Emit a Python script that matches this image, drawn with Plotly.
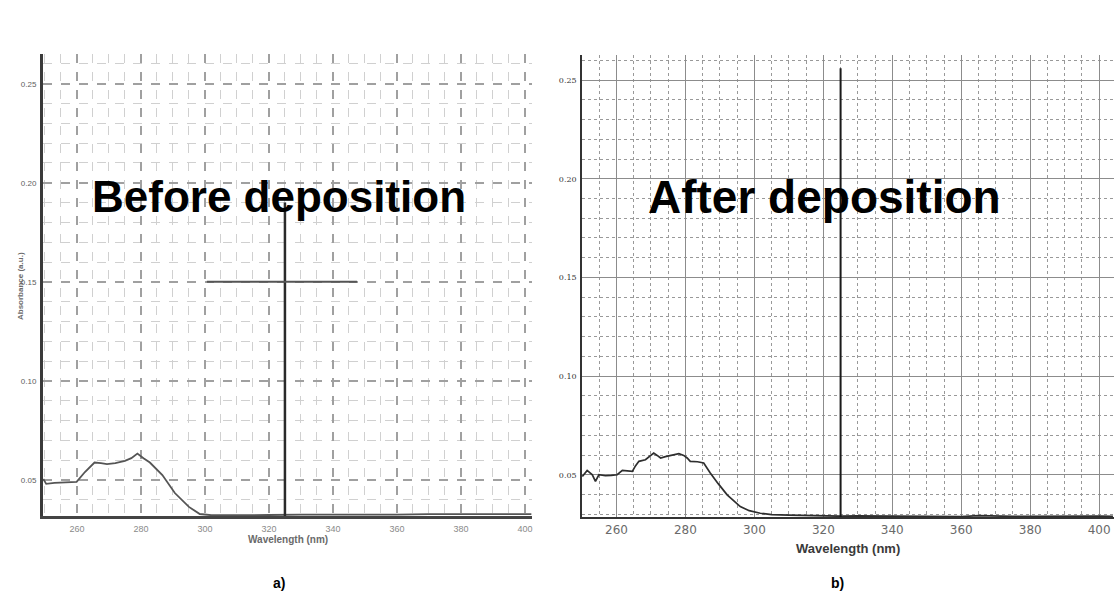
import plotly.graph_objects as go

W, H = 1114, 597

# ---------------- data ----------------
before_wavelength = [249.5, 250.4, 253, 256, 259.9, 262.5, 265.5, 267.5, 269.4, 272, 275, 277, 278.9,
                     280.8, 282.8, 286.7, 290.6, 295, 298.4, 302, 310, 320, 330, 340, 350, 360,
                     370, 380, 390, 400, 402]
before_absorbance = [0.0505, 0.048, 0.0485, 0.0488, 0.049, 0.054, 0.0588, 0.0585, 0.058, 0.0585, 0.0596,
                     0.061, 0.0633, 0.061, 0.0588, 0.0525, 0.0434, 0.0364, 0.0328, 0.0322, 0.0324,
                     0.0323, 0.0325, 0.0324, 0.0326, 0.0325, 0.0327, 0.0326, 0.0326, 0.0327, 0.0327]

after_wavelength = [250.1, 251.5, 253.0, 253.9, 254.9, 256.8, 258.5, 260.2, 261.7, 263.0, 264.6, 265.5,
                    266.5, 268.4, 269.5, 270.8, 271.8, 272.8, 274.2, 275.7, 277.0, 278.1, 279.5,
                    280.5, 281.4, 283.5, 285.3, 287.2, 289.5, 292.1, 295.9, 298.5, 301.7, 305,
                    310, 315, 320, 325, 330, 335, 340, 345, 350, 355, 360, 365, 370, 375, 380,
                    385, 390, 395, 400, 404]
after_absorbance = [0.0491, 0.0522, 0.050, 0.0466, 0.050, 0.0495, 0.0497, 0.050, 0.0522, 0.0520, 0.0517,
                    0.0545, 0.0568, 0.0576, 0.0590, 0.0610, 0.0598, 0.0585, 0.0592, 0.0597, 0.0602,
                    0.0607, 0.0598, 0.0585, 0.0568, 0.0566, 0.056, 0.0509, 0.0455, 0.0398, 0.0339,
                    0.0318, 0.0305, 0.0298, 0.0295, 0.0293, 0.0292, 0.0290, 0.0292, 0.0291, 0.0290,
                    0.0289, 0.0288, 0.0289, 0.0288, 0.0293, 0.0290, 0.0289, 0.0289, 0.0290, 0.0291,
                    0.0290, 0.0290, 0.0289]

x_tick_values = [260, 280, 300, 320, 340, 360, 380, 400]
x_tick_labels = ["260", "280", "300", "320", "340", "360", "380", "400"]
y_tick_values = [0.05, 0.10, 0.15, 0.20, 0.25]
y_tick_labels = ["0.05", "0.10", "0.15", "0.20", "0.25"]

marker_wavelength = 325

left_x_range = [249.4, 402.2]
left_y_range = [0.0318, 0.265]
right_x_range = [250.0, 404.3]
right_y_range = [0.0286, 0.2627]

panel_titles = ["Before deposition", "After deposition"]
panel_letters = ["a)", "b)"]
x_title = "Wavelength (nm)"
y_title = "Absorbance (a.u.)"


def px(xp):
    return xp / W


def py(yp):
    return 1 - yp / H


fig = go.Figure()

fig.add_trace(go.Scatter(x=before_wavelength, y=before_absorbance, mode="lines",
                         line=dict(color="#555555", width=1.8), xaxis="x", yaxis="y",
                         showlegend=False, hoverinfo="skip"))
fig.add_trace(go.Scatter(x=after_wavelength, y=after_absorbance, mode="lines",
                         line=dict(color="#2e2e2e", width=1.7), xaxis="x2", yaxis="y2",
                         showlegend=False, hoverinfo="skip"))

common_x = dict(tickmode="array", tickvals=x_tick_values, ticktext=x_tick_labels,
                showline=True, ticks="", zeroline=False, fixedrange=True)
common_y = dict(tickmode="array", tickvals=y_tick_values, ticktext=y_tick_labels,
                showline=True, ticks="", zeroline=False, fixedrange=True)

fig.update_layout(
    width=W, height=H, autosize=False,
    margin=dict(l=0, r=0, t=0, b=0),
    paper_bgcolor="white", plot_bgcolor="white",
    font=dict(family="Liberation Sans, Arial, sans-serif"),
    xaxis=dict(domain=[px(43), px(532)], range=left_x_range, anchor="y",
               showgrid=True, gridcolor="#a0a0a0", gridwidth=1.6, griddash="dash",
               linecolor="#444444", linewidth=2.5,
               tickfont=dict(size=9, color="#8a8a8a"), ticklabelstandoff=2,
               minor=dict(dtick=5, tick0=250, showgrid=True, gridcolor="#d0d0d0",
                          griddash="dash", gridwidth=1.2),
               **common_x),
    yaxis=dict(domain=[py(516), py(54)], range=left_y_range, anchor="x",
               showgrid=True, gridcolor="#a0a0a0", gridwidth=1.6, griddash="dash",
               linecolor="#3a3a3a", linewidth=3,
               tickfont=dict(size=8, color="#606060"), ticklabelstandoff=2,
               minor=dict(dtick=0.01, tick0=0.05, showgrid=True, gridcolor="#d0d0d0",
                          griddash="dash", gridwidth=1.2),
               **common_y),
    xaxis2=dict(domain=[px(582), 1.0], range=right_x_range, anchor="y2",
                showgrid=True, gridcolor="#8c8c8c", gridwidth=1,
                linecolor="#333333", linewidth=1.5,
                tickfont=dict(size=12, color="#6a6a6a", family="DejaVu Sans"), ticklabelstandoff=1,
                minor=dict(dtick=5, tick0=250, showgrid=True, gridcolor="#999999",
                           griddash="dot", gridwidth=1),
                **common_x),
    yaxis2=dict(domain=[py(517), py(55)], range=right_y_range, anchor="x2",
                showgrid=True, gridcolor="#8c8c8c", gridwidth=1,
                linecolor="#333333", linewidth=1.5,
                tickfont=dict(size=8, color="#333333", family="DejaVu Serif"), ticklabelstandoff=2,
                minor=dict(dtick=0.01, tick0=0.05, showgrid=True, gridcolor="#999999",
                           griddash="dot", gridwidth=1),
                **common_y),
)

# thick dark line at the marker wavelength in both panels
fig.add_shape(type="line", xref="x", yref="y", x0=marker_wavelength, x1=marker_wavelength,
              y0=left_y_range[0], y1=0.19, line=dict(color="#2a2a2a", width=2.5), layer="above")
fig.add_shape(type="line", xref="x", yref="y", x0=300.6, x1=347.5, y0=0.15, y1=0.15,
              line=dict(color="#555555", width=2), layer="above")
fig.add_shape(type="line", xref="x2", yref="y2", x0=marker_wavelength, x1=marker_wavelength,
              y0=right_y_range[0], y1=0.256, line=dict(color="#1a1a1a", width=2), layer="above")

# big panel titles
fig.add_annotation(x=px(279), y=py(196), xref="paper", yref="paper", text="<b>%s</b>" % panel_titles[0],
                   showarrow=False, font=dict(size=44, color="black", family="Liberation Sans"),
                   xanchor="center", yanchor="middle")
fig.add_annotation(x=px(824), y=py(197), xref="paper", yref="paper", text="<b>%s</b>" % panel_titles[1],
                   showarrow=False, font=dict(size=46, color="black", family="Liberation Sans"),
                   xanchor="center", yanchor="middle")

# axis titles
fig.add_annotation(x=px(288), y=py(539), xref="paper", yref="paper", text="<b>%s</b>" % x_title,
                   showarrow=False, font=dict(size=10, color="#6a6a6a"), xanchor="center", yanchor="middle")
fig.add_annotation(x=px(848), y=py(548), xref="paper", yref="paper", text="<b>%s</b>" % x_title,
                   showarrow=False, font=dict(size=13, color="#3a3a3a"), xanchor="center", yanchor="middle")
fig.add_annotation(x=px(20), y=py(286), xref="paper", yref="paper", text="<b>%s</b>" % y_title,
                   showarrow=False, textangle=-90, font=dict(size=8, color="#6a6a6a"),
                   xanchor="center", yanchor="middle")

# panel letters
fig.add_annotation(x=px(279), y=py(583), xref="paper", yref="paper", text="<b>%s</b>" % panel_letters[0],
                   showarrow=False, font=dict(size=14, color="black"), xanchor="center", yanchor="middle")
fig.add_annotation(x=px(837), y=py(583), xref="paper", yref="paper", text="<b>%s</b>" % panel_letters[1],
                   showarrow=False, font=dict(size=14, color="black"), xanchor="center", yanchor="middle")

fig.write_html("out.html")
